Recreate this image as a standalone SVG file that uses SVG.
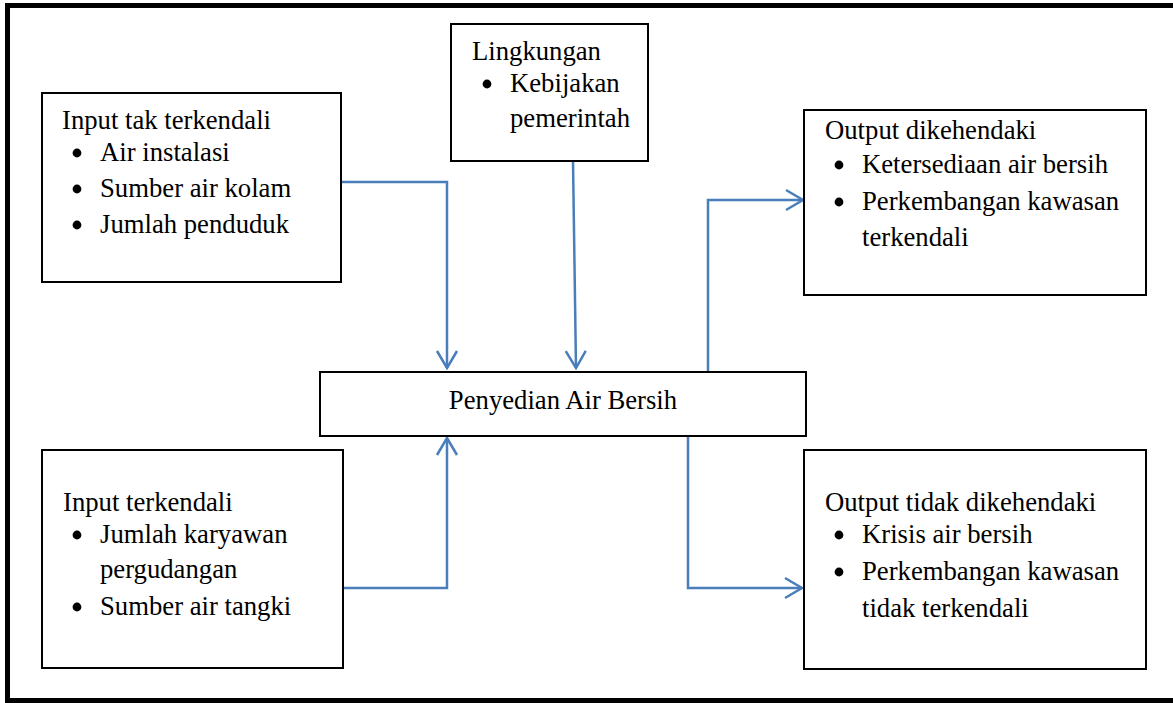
<svg xmlns="http://www.w3.org/2000/svg" width="1173" height="703" viewBox="0 0 1173 703">
  <style>
    .box { fill: #ffffff; stroke: #000000; stroke-width: 2; }
    .frame { fill: none; stroke: #000000; stroke-width: 5; }
    .lbl { font-family: "Liberation Serif", "Times New Roman", serif; font-size: 26.7px; fill: #000000; }
    .dot { fill: #000000; }
    .wire { fill: none; stroke: #4a7ebb; stroke-width: 2.5; }
  </style>
  <defs>
    <marker id="arrow" viewBox="-20 -12 22 24" markerWidth="22" markerHeight="24" refX="0" refY="0" orient="auto" markerUnits="userSpaceOnUse">
      <path d="M-17,-10 L0,0 L-17,10" fill="none" stroke="#4a7ebb" stroke-width="2.5"/>
    </marker>
  </defs>

  <rect width="1173" height="703" fill="#ffffff"/>
  <!-- outer frame -->
  <rect class="frame" x="7.5" y="5.5" width="1180" height="695"/>

  <!-- connectors -->
  <g id="connectors">
    <polyline class="wire" points="341,182 447,182 447,368" marker-end="url(#arrow)"/>
    <line class="wire" x1="573" y1="161" x2="576" y2="368" marker-end="url(#arrow)"/>
    <polyline class="wire" points="343,588 447,588 447,438" marker-end="url(#arrow)"/>
    <polyline class="wire" points="708,372 708,200 803,200" marker-end="url(#arrow)"/>
    <polyline class="wire" points="688,436 688,588 802,588" marker-end="url(#arrow)"/>
  </g>

  <!-- uncontrolled inputs -->
  <g id="input-tak-terkendali">
    <rect class="box" x="42" y="93" width="299" height="189"/>
    <text class="lbl" x="62" y="129">Input tak terkendali</text>
    <circle class="dot" cx="77" cy="153" r="4.4"/>
    <text class="lbl" x="100" y="161">Air instalasi</text>
    <circle class="dot" cx="77" cy="189" r="4.4"/>
    <text class="lbl" x="100" y="197">Sumber air kolam</text>
    <circle class="dot" cx="77" cy="225" r="4.4"/>
    <text class="lbl" x="100" y="233">Jumlah penduduk</text>
  </g>

  <!-- environment -->
  <g id="lingkungan">
    <rect class="box" x="451" y="24" width="197" height="137"/>
    <text class="lbl" x="472" y="60">Lingkungan</text>
    <circle class="dot" cx="487" cy="84" r="4.4"/>
    <text class="lbl" x="510" y="92">Kebijakan</text>
    <text class="lbl" x="510" y="127">pemerintah</text>
  </g>

  <!-- desired outputs -->
  <g id="output-dikehendaki">
    <rect class="box" x="804" y="110" width="342" height="185"/>
    <text class="lbl" x="825" y="139">Output dikehendaki</text>
    <circle class="dot" cx="839" cy="165" r="4.4"/>
    <text class="lbl" x="862" y="173">Ketersediaan air bersih</text>
    <circle class="dot" cx="839" cy="202" r="4.4"/>
    <text class="lbl" x="862" y="210">Perkembangan kawasan</text>
    <text class="lbl" x="862" y="246">terkendali</text>
  </g>

  <!-- central process -->
  <g id="penyediaan">
    <rect class="box" x="320" y="372" width="486" height="64"/>
    <text class="lbl" x="563" y="409" text-anchor="middle">Penyedian Air Bersih</text>
  </g>

  <!-- controlled inputs -->
  <g id="input-terkendali">
    <rect class="box" x="42" y="450" width="301" height="218"/>
    <text class="lbl" x="63" y="511">Input terkendali</text>
    <circle class="dot" cx="77" cy="535" r="4.4"/>
    <text class="lbl" x="100" y="543">Jumlah karyawan</text>
    <text class="lbl" x="100" y="578">pergudangan</text>
    <circle class="dot" cx="77" cy="607" r="4.4"/>
    <text class="lbl" x="100" y="615">Sumber air tangki</text>
  </g>

  <!-- undesired outputs -->
  <g id="output-tidak-dikehendaki">
    <rect class="box" x="804" y="450" width="342" height="219"/>
    <text class="lbl" x="825" y="511">Output tidak dikehendaki</text>
    <circle class="dot" cx="839" cy="535" r="4.4"/>
    <text class="lbl" x="862" y="543">Krisis air bersih</text>
    <circle class="dot" cx="839" cy="572" r="4.4"/>
    <text class="lbl" x="862" y="580">Perkembangan kawasan</text>
    <text class="lbl" x="862" y="617">tidak terkendali</text>
  </g>
</svg>
